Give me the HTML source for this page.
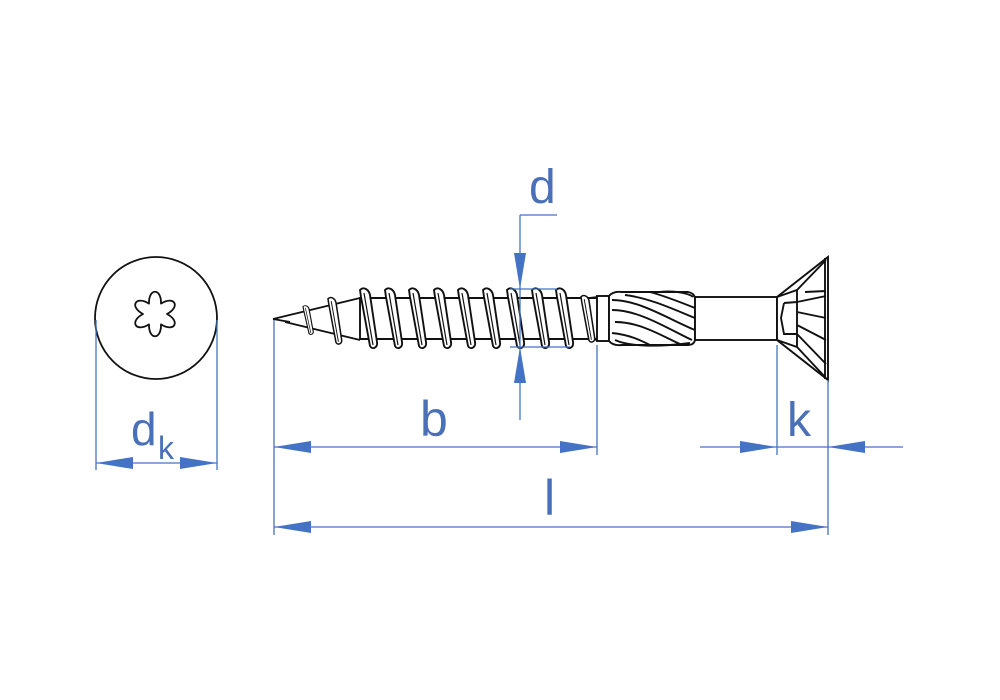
<!DOCTYPE html>
<html><head><meta charset="utf-8"><style>
html,body{margin:0;padding:0;background:#fff}
svg{display:block}
text{font-family:"Liberation Sans",sans-serif;fill:#4a70b8}
</style></head><body>
<svg width="1000" height="700" viewBox="0 0 1000 700" xmlns="http://www.w3.org/2000/svg">
<defs>
<g id="th">
<path d="M0,1 C4,-3 9,1 10,6 L17,53 C18,59 12,61 10,57 L1,8 Z" fill="#fff" stroke="#111" stroke-width="1.9"/>
<path d="M4,4 L13,56" stroke="#111" stroke-width="1.2"/>
</g>
</defs>
<!-- head view -->
<circle cx="156" cy="318" r="61" fill="none" stroke="#111" stroke-width="1.8"/>
<path fill="none" stroke="#111" stroke-width="1.8" stroke-linejoin="round" d="M149,303.6 C148.5,287.8 161.5,287.8 161,303.6 C174.4,295.2 181,306.6 167,314 C181,321.4 174.4,332.8 161,324.4 C161.5,340.2 148.5,340.2 149,324.4 C135.6,332.8 129,321.4 143,314 C129,306.6 135.6,295.2 149,303.6 Z"/>

<!-- screw body -->
<g stroke="#111" stroke-width="1.9" fill="none">
<path d="M273,319 L360,298 M285,322 L360,340 M273,319 L290,322"/>
<line x1="360" y1="298" x2="600" y2="298"/>
<line x1="360" y1="339" x2="600" y2="339"/>
<line x1="360" y1="297" x2="360" y2="340"/>
<path d="M590,298 L607,296 M590,339 L607,341"/>
<rect x="597" y="296" width="12" height="45" fill="#fff"/>
<!-- ribbed section -->
<path d="M609,296 Q613,291 622,292 L688,292 Q694,293 695,298 L695,340 Q694,345 688,345 L622,345 Q613,346 609,341 Z" fill="#fff"/>
<path d="M612,300 C640,300 670,320 695,330 M612,310 C640,310 670,330 692,340 M615,322 C640,322 660,335 680,344 M625,295 C650,298 675,310 695,318 M650,292 C665,296 680,302 695,308 M612,333 C630,335 640,340 650,345 M660,292 C675,290 690,294 693,297 M615,340 C630,347 660,347 690,343"/>
<!-- smooth shank -->
<rect x="695" y="297" width="82" height="43" fill="#fff"/>
<!-- head -->
<path d="M777,297 L828,257 L828,380 L777,340 Z" fill="#fff"/>
<path d="M777,297 L797,290 L797,347 L777,340 M797,290 L826,260 M797,347 L826,378 M784,303 L797,302 M784,303 L781,318 L784,334 L797,334 M797,302 L826,296 M797,312 L826,318 M797,325 L826,340 M797,334 L826,364 M805,292 L826,291"/>
<line x1="825" y1="258" x2="825" y2="379"/>
</g>
<!-- taper threads -->
<use href="#th" transform="translate(303,306) scale(0.6,0.48)"/>
<use href="#th" transform="translate(328,298) scale(0.8,0.78)"/>
<!-- main threads -->
<use href="#th" x="360" y="289"/>
<use href="#th" x="385" y="289"/>
<use href="#th" x="409" y="289"/>
<use href="#th" x="434" y="289"/>
<use href="#th" x="458" y="289"/>
<use href="#th" x="483" y="289"/>
<use href="#th" x="507" y="289"/>
<use href="#th" x="532" y="289"/>
<use href="#th" x="556" y="289"/>
<use href="#th" transform="translate(581,296) scale(0.8,0.78)"/>

<!-- dimensions -->
<g stroke="#4472c4" stroke-width="1.3" fill="none">
<line x1="96" y1="320" x2="96" y2="470"/>
<line x1="217" y1="320" x2="217" y2="470"/>
<line x1="96" y1="463" x2="217" y2="463"/>
<line x1="274" y1="320" x2="274" y2="535"/>
<line x1="597" y1="345" x2="597" y2="455"/>
<line x1="777" y1="345" x2="777" y2="455"/>
<line x1="828" y1="380" x2="828" y2="535"/>
<line x1="274" y1="447" x2="597" y2="447"/>
<line x1="274" y1="527" x2="828" y2="527"/>
<line x1="700" y1="447" x2="903" y2="447"/>
<line x1="520" y1="215" x2="520" y2="420"/>
<line x1="520" y1="215" x2="557" y2="215"/>
<line x1="510" y1="289" x2="557" y2="289"/>
<line x1="510" y1="347" x2="570" y2="347"/>
</g>
<g fill="#4472c4">
<polygon points="96,463 133,457 133,469"/>
<polygon points="217,463 180,457 180,469"/>
<polygon points="274,447 311,441 311,453"/>
<polygon points="597,447 560,441 560,453"/>
<polygon points="274,527 311,521 311,533"/>
<polygon points="828,527 791,521 791,533"/>
<polygon points="777,447 740,441 740,453"/>
<polygon points="828,447 865,441 865,453"/>
<polygon points="520,289 514,253 526,253"/>
<polygon points="520,347 514,383 526,383"/>
</g>
<text x="131" y="445" font-size="46">d</text>
<text x="158" y="459" font-size="32">k</text>
<text x="420" y="436" font-size="50">b</text>
<text x="544" y="515" font-size="50">l</text>
<text x="787" y="436" font-size="48">k</text>
<text x="529" y="203" font-size="48">d</text>
</svg>
</body></html>
